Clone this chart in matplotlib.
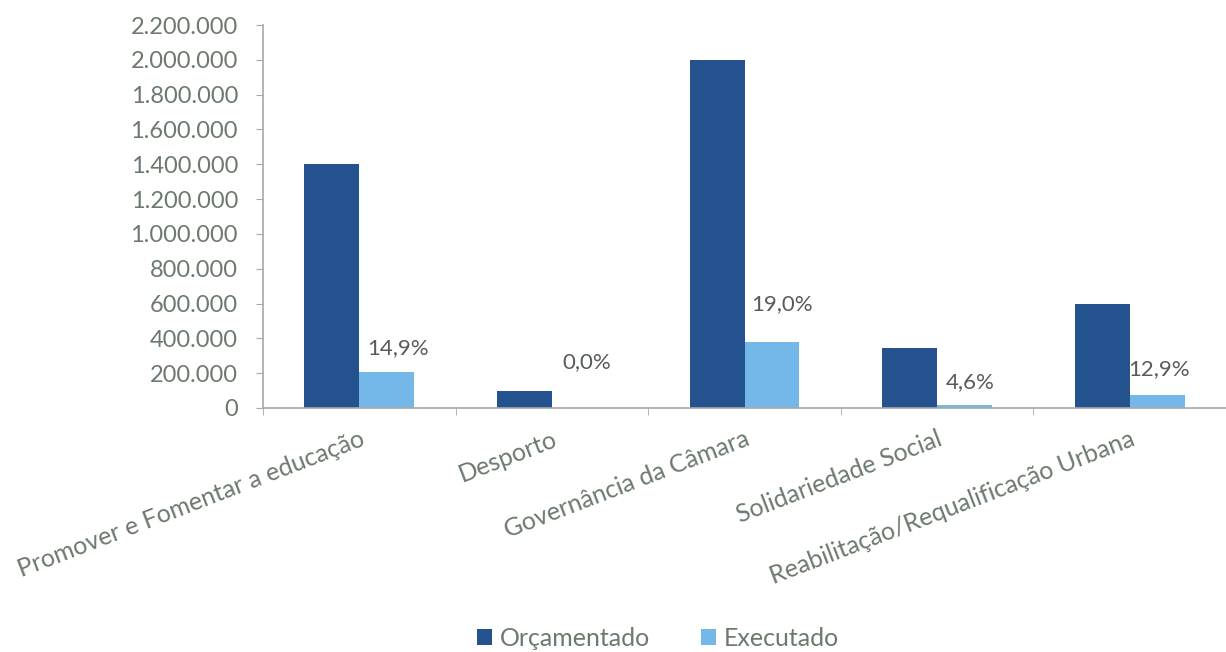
import matplotlib
matplotlib.use("Agg")
import matplotlib.pyplot as plt
import numpy as np
from matplotlib.ticker import FuncFormatter

categories = [
    "Promover e Fomentar a educação",
    "Desporto",
    "Governância da Câmara",
    "Solidariedade Social",
    "Reabilitação/Requalificação Urbana",
]
orcamentado = [1400000, 100000, 2000000, 345000, 595000]
execucao_pct = [14.9, 0.0, 19.0, 4.6, 12.9]
executado = [o * p / 100 for o, p in zip(orcamentado, execucao_pct)]

# baseline offset of each percentage label above its bar (points)
label_offsets = [13, 29, 23, 12, 14]
label_dx = [8, 5, 7, 4, 1]

dark = "#23528f"
light = "#74b8ea"
text_col = "#6b7a6d"
axis_col = "#a8a8a8"

plt.rcParams["font.family"] = ["Lato", "DejaVu Sans"]

fig = plt.figure(figsize=(12.26, 6.52), dpi=100)
ax = fig.add_axes([263 / 1226, 1 - 408 / 652, (1226 - 263) / 1226, (408 - 25) / 652])

x = np.arange(len(categories))
w = 0.285
ax.bar(x - w / 2, orcamentado, w, color=dark, label="Orçamentado")
ax.bar(x + w / 2, executado, w, color=light, label="Executado")

for xi, val, pct, off, dx in zip(x, executado, execucao_pct, label_offsets, label_dx):
    ax.annotate(f"{pct:.1f}%".replace(".", ","), (xi + w / 2, val),
                xytext=(dx, off), textcoords="offset points",
                ha="center", va="baseline", fontsize=16, color="#565c57")

ax.set_ylim(0, 2200000)
ax.set_xlim(-0.5, 4.455)
ax.set_yticks(np.arange(0, 2200001, 200000))
ax.yaxis.set_major_formatter(FuncFormatter(lambda v, _: f"{int(v):,}".replace(",", ".")))
ax.tick_params(axis="y", labelsize=17, colors=axis_col, labelcolor=text_col, length=5, pad=13)

ax.set_xticks(x)
ax.set_xticklabels(categories, rotation=21, ha="right", rotation_mode="anchor",
                   fontsize=18, color=text_col)
ax.tick_params(axis="x", length=0, pad=14)
ax.set_xticks(np.arange(-0.5, 4.6, 1), minor=True)
ax.tick_params(axis="x", which="minor", length=5, color=axis_col)

for s in ["top", "right"]:
    ax.spines[s].set_visible(False)
for s in ["left", "bottom"]:
    ax.spines[s].set_color(axis_col)
    ax.spines[s].set_linewidth(1.2)

leg = fig.legend(loc="center", bbox_to_anchor=(658 / 1226, 1 - 638 / 652), ncol=2, frameon=False,
                 fontsize=18, handlelength=0.6, handleheight=0.6, columnspacing=2.0,
                 handletextpad=0.35)
for t in leg.get_texts():
    t.set_color(text_col)

fig.savefig("out.png", dpi=100)
